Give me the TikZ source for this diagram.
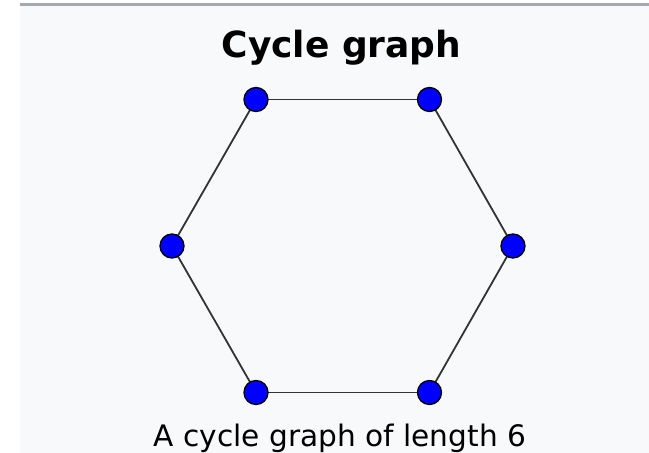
\documentclass[tikz,border=0pt]{standalone}
\usepackage{fontspec}
\setmainfont{DejaVu Sans}
\usetikzlibrary{backgrounds}
\definecolor{panelbg}{HTML}{F8F9FA}
\definecolor{rulegray}{HTML}{A2A9B1}
\definecolor{edgegray}{HTML}{333333}
\definecolor{vblue}{HTML}{0000FF}
\begin{document}
\begin{tikzpicture}[x=1pt,y=-1pt,
  vertex/.style={circle,fill=vblue,draw=black,line width=1.3pt,minimum size=24pt,inner sep=0pt},
  edge/.style={draw=edgegray,line width=1.8pt},
  titletext/.style={font=\fontsize{36}{40}\selectfont\bfseries,anchor=base},
  captiontext/.style={font=\fontsize{29.6}{32}\selectfont,anchor=base}]
\useasboundingbox (0,0) rectangle (649,453);
\node[titletext] (title) at (341.5,57) {Cycle graph};
\node[vertex] (v1) at (256,99.5) {};
\node[vertex] (v2) at (429.5,99.5) {};
\node[vertex] (v3) at (513,246) {};
\node[vertex] (v4) at (429.5,392.5) {};
\node[vertex] (v5) at (256,392.5) {};
\node[vertex] (v6) at (172,246) {};
\node[captiontext] (caption) at (340,446) {A cycle graph of length 6};
\begin{scope}[on background layer]
\fill[white] (0,0) rectangle (649,453);
\fill[panelbg] (20,6) rectangle (649,453);
\fill[rulegray] (20,3) rectangle (649,6);
\path[edge] (v1.center) -- (v2.center);
\path[edge] (v2.center) -- (v3.center);
\path[edge] (v3.center) -- (v4.center);
\path[edge] (v4.center) -- (v5.center);
\path[edge] (v5.center) -- (v6.center);
\path[edge] (v6.center) -- (v1.center);
\end{scope}
\end{tikzpicture}
\end{document}
